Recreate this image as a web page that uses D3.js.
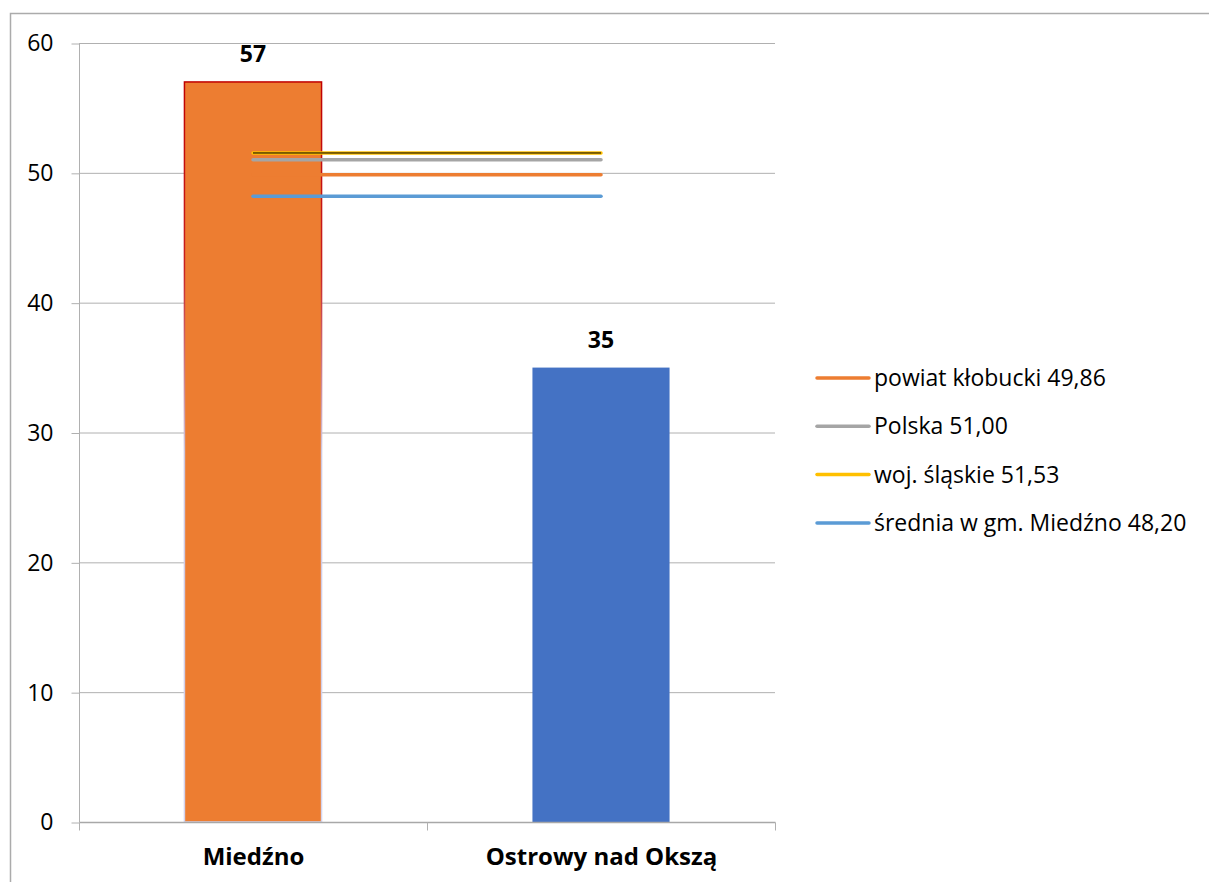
<!DOCTYPE html>
<html><head><meta charset="utf-8">
<script src="https://cdn.jsdelivr.net/npm/d3@7/dist/d3.min.js"></script>
<style>body{margin:0;background:#fff}svg{display:block}text{font-family:"Open Sans",sans-serif;fill:#000}</style>
</head><body><svg id="c" width="1209" height="882"></svg>
<script>
const categories = ["Miedźno", "Ostrowy nad Okszą"];
const barValues = [57, 35];
const barColors = ["#ED7D31", "#4472C4"];
const yTicks = [0, 10, 20, 30, 40, 50, 60];
const refNames = ["powiat kłobucki 49,86", "Polska 51,00", "woj. śląskie 51,53", "średnia w gm. Miedźno 48,20"];
const refValues = [49.86, 51.00, 51.53, 48.20];
const refColors = ["#ED7D31", "#A5A5A5", "#FFC000", "#5B9BD5"];

const svg = d3.select("#c");
const defs = svg.append("defs");
const gr = defs.append("linearGradient").attr("id","bord").attr("x1",0).attr("y1",0).attr("x2",0).attr("y2",1);
gr.append("stop").attr("offset","0%").attr("stop-color","#C00000");
gr.append("stop").attr("offset","25%").attr("stop-color","#C82020");
gr.append("stop").attr("offset","50%").attr("stop-color","#CFC8E0");
gr.append("stop").attr("offset","100%").attr("stop-color","#D4D4EE");

svg.append("rect").attr("x",10.5).attr("y",13.5).attr("width",1210).attr("height",900)
  .attr("fill","none").attr("stroke","#ababab").attr("stroke-width",1.5);

const x = d3.scaleBand().domain(categories).range([79, 775]).paddingInner(0.606).paddingOuter(0.303);
const xo = d3.scaleBand().domain(categories).range([79, 775]);
const y = d3.scaleLinear().domain([0, 60]).range([822, 43]);

const g = svg.append("g");
g.selectAll(".grid").data(yTicks.slice(1)).join("line")
  .attr("x1",79).attr("x2",775).attr("y1",d=>y(d)+0.5).attr("y2",d=>y(d)+0.5)
  .attr("stroke","#b0b0b0").attr("stroke-width",1);

const ya = svg.append("g").attr("transform","translate(79.5,0.5)")
  .call(d3.axisLeft(y).tickValues(yTicks).tickSize(8).tickPadding(18));
ya.select(".domain").attr("stroke","#b0b0b0").attr("d","M0,"+y(60)+"V"+y(0));
ya.selectAll(".tick line").attr("stroke","#b0b0b0");
ya.selectAll(".tick text").style("font-size","23px").attr("font-family","Open Sans");

svg.selectAll(".bar").data(categories).join("rect")
  .attr("x",d=>x(d)).attr("width",x.bandwidth())
  .attr("y",(d,i)=>y(barValues[i])).attr("height",(d,i)=>y(0)-y(barValues[i]))
  .attr("fill",(d,i)=>barColors[i])
  .attr("stroke",(d,i)=>i===0?"url(#bord)":"none").attr("stroke-width",1.5);

const xa = svg.append("g").attr("transform","translate(0.5,"+(y(0)+0.5)+")");
xa.append("line").attr("x1",79).attr("x2",775).attr("stroke","#a8a8a8").attr("stroke-width",1.5);
const bounds = [79].concat(categories.map(c=>xo(c)+xo.bandwidth()));
xa.selectAll(".xt").data(bounds).join("line").attr("x1",d=>d).attr("x2",d=>d).attr("y1",0).attr("y2",8).attr("stroke","#b0b0b0");
xa.selectAll(".xl").data(categories).join("text")
  .attr("x",d=>xo(d)+xo.bandwidth()/2).attr("y",42).attr("text-anchor","middle")
  .style("font-size","24px").style("font-weight","bold").text(d=>d);

svg.selectAll(".bl").data(categories).join("text")
  .attr("x",d=>x(d)+x.bandwidth()/2).attr("y",(d,i)=>y(barValues[i])-20)
  .attr("text-anchor","middle").style("font-size","23px").style("font-weight","bold")
  .text((d,i)=>barValues[i]);

const cx = categories.map(c=>xo(c)+xo.bandwidth()/2);
const order = [0,3,1,2];
order.forEach(i=>{
  svg.append("line").attr("x1",cx[0]).attr("x2",cx[1]).attr("y1",y(refValues[i])).attr("y2",y(refValues[i]))
    .attr("stroke",refColors[i]).attr("stroke-width",3.5).attr("stroke-linecap","round");
  if(i===2) svg.append("line").attr("x1",cx[0]).attr("x2",cx[1]).attr("y1",y(refValues[i])).attr("y2",y(refValues[i]))
    .attr("stroke","#000").attr("stroke-width",1);
});

const lg = svg.append("g");
refNames.forEach((n,i)=>{
  const yy = 378 + i*48.3;
  lg.append("line").attr("x1",817).attr("x2",869).attr("y1",yy).attr("y2",yy)
    .attr("stroke",refColors[i]).attr("stroke-width",3.5).attr("stroke-linecap","round");
  lg.append("text").attr("x",874).attr("y",yy).attr("dy","0.35em").style("font-size","23px").text(n);
});
</script></body></html>
